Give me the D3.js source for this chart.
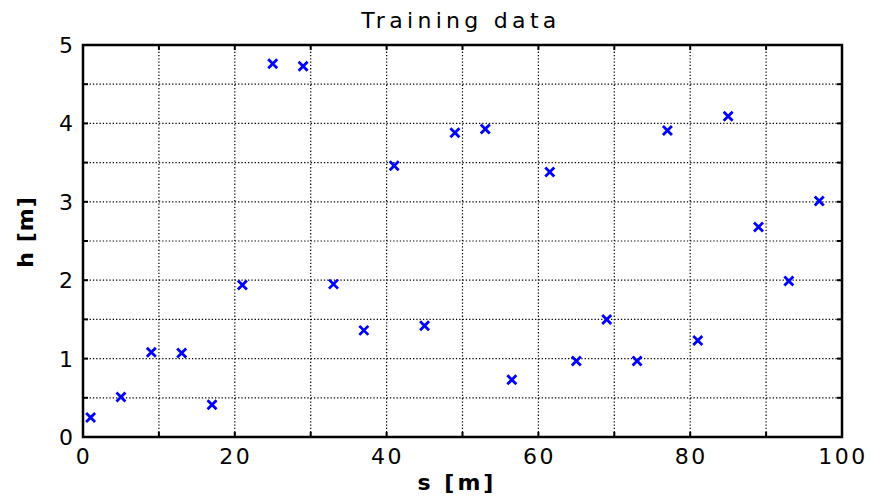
<!DOCTYPE html>
<html>
<head>
<meta charset="utf-8">
<script src="https://cdn.jsdelivr.net/npm/d3@7"></script>
<style>
  body { margin: 0; background: #fff; }
  text { font-family: "DejaVu Sans", "Liberation Sans", sans-serif; fill: #000; }
</style>
</head>
<body>
<script>
// training points
var sValues = [1, 5, 9, 13, 17, 21, 25, 29, 33, 37, 41, 45, 49, 53, 56.5, 61.5, 65, 69, 73, 77, 81, 85, 89, 93, 97];
var hValues = [0.25, 0.51, 1.08, 1.07, 0.41, 1.94, 4.76, 4.73, 1.95, 1.36, 3.46, 1.42, 3.88, 3.93, 0.73, 3.38, 0.97, 1.50, 0.97, 3.91, 1.23, 4.09, 2.68, 1.99, 3.01];
var xTickLabels = [0, 20, 40, 60, 80, 100];
var yTickLabels = [0, 1, 2, 3, 4, 5];

window.onload = function(){
    var width = 870, height = 496;
    var left = 83, right = 842, top = 45, bottom = 437;

    var svg = d3.select("body").append("svg")
        .attr("width", width)
        .attr("height", height);

    var x = d3.scaleLinear().domain([0, 100]).range([left, right]);
    var y = d3.scaleLinear().domain([0, 5]).range([bottom, top]);

    var xGrid = d3.range(0, 101, 10);
    var yGrid = d3.range(0, 5.01, 0.5);

    // dotted grid
    svg.append("g").selectAll("line").data(xGrid.slice(1, -1)).enter().append("line")
        .attr("x1", d => x(d)).attr("x2", d => x(d))
        .attr("y1", top).attr("y2", bottom)
        .attr("stroke", "#000").attr("stroke-width", 1.2)
        .attr("stroke-dasharray", "1.3,2");
    svg.append("g").selectAll("line").data(yGrid.slice(1, -1)).enter().append("line")
        .attr("y1", d => y(d)).attr("y2", d => y(d))
        .attr("x1", left).attr("x2", right)
        .attr("stroke", "#000").attr("stroke-width", 1.2)
        .attr("stroke-dasharray", "1.3,2");

    // inward ticks on all four sides
    var tickLen = 5;
    var ticks = svg.append("g").attr("stroke", "#000").attr("stroke-width", 2);
    xGrid.forEach(function(d){
        ticks.append("line").attr("x1", x(d)).attr("x2", x(d)).attr("y1", bottom).attr("y2", bottom - tickLen);
        ticks.append("line").attr("x1", x(d)).attr("x2", x(d)).attr("y1", top).attr("y2", top + tickLen);
    });
    yGrid.forEach(function(d){
        ticks.append("line").attr("y1", y(d)).attr("y2", y(d)).attr("x1", left).attr("x2", left + tickLen);
        ticks.append("line").attr("y1", y(d)).attr("y2", y(d)).attr("x1", right).attr("x2", right - tickLen);
    });

    // box
    svg.append("rect")
        .attr("x", left).attr("y", top)
        .attr("width", right - left).attr("height", bottom - top)
        .attr("fill", "none").attr("stroke", "#000").attr("stroke-width", 2.5);

    // tick labels
    svg.append("g").selectAll("text").data(xTickLabels).enter().append("text")
        .attr("x", d => x(d) + 1).attr("y", bottom + 27)
        .attr("text-anchor", "middle")
        .style("font-size", "22px").style("letter-spacing", "2.5px")
        .text(d => d);
    svg.append("g").selectAll("text").data(yTickLabels).enter().append("text")
        .attr("x", left - 10).attr("y", d => y(d) + 8)
        .attr("text-anchor", "end")
        .style("font-size", "22px")
        .text(d => d);

    // title and axis labels
    svg.append("text")
        .attr("x", 461).attr("y", 28)
        .attr("text-anchor", "middle")
        .style("font-size", "22px").style("letter-spacing", "4.3px")
        .text("Training data");
    svg.append("text")
        .attr("x", 457).attr("y", 490)
        .attr("text-anchor", "middle")
        .style("font-size", "22px").style("font-weight", "bold").style("letter-spacing", "3px")
        .text("s [m]");
    svg.append("text")
        .attr("transform", "translate(33,232) rotate(-90)")
        .attr("text-anchor", "middle")
        .style("font-size", "22px").style("font-weight", "bold").style("letter-spacing", "1px")
        .text("h [m]");

    // x markers
    var pts = d3.range(sValues.length).map(i => [sValues[i], hValues[i]]);
    var r = 4.5;
    svg.append("g").selectAll("path").data(pts).enter().append("path")
        .attr("d", function(d){
            var cx = x(d[0]), cy = y(d[1]);
            return "M" + (cx - r) + "," + (cy - r) + "L" + (cx + r) + "," + (cy + r) +
                   "M" + (cx - r) + "," + (cy + r) + "L" + (cx + r) + "," + (cy - r);
        })
        .attr("stroke", "#0000ff").attr("stroke-width", 2.8).attr("fill", "none");
};
</script>
</body>
</html>
